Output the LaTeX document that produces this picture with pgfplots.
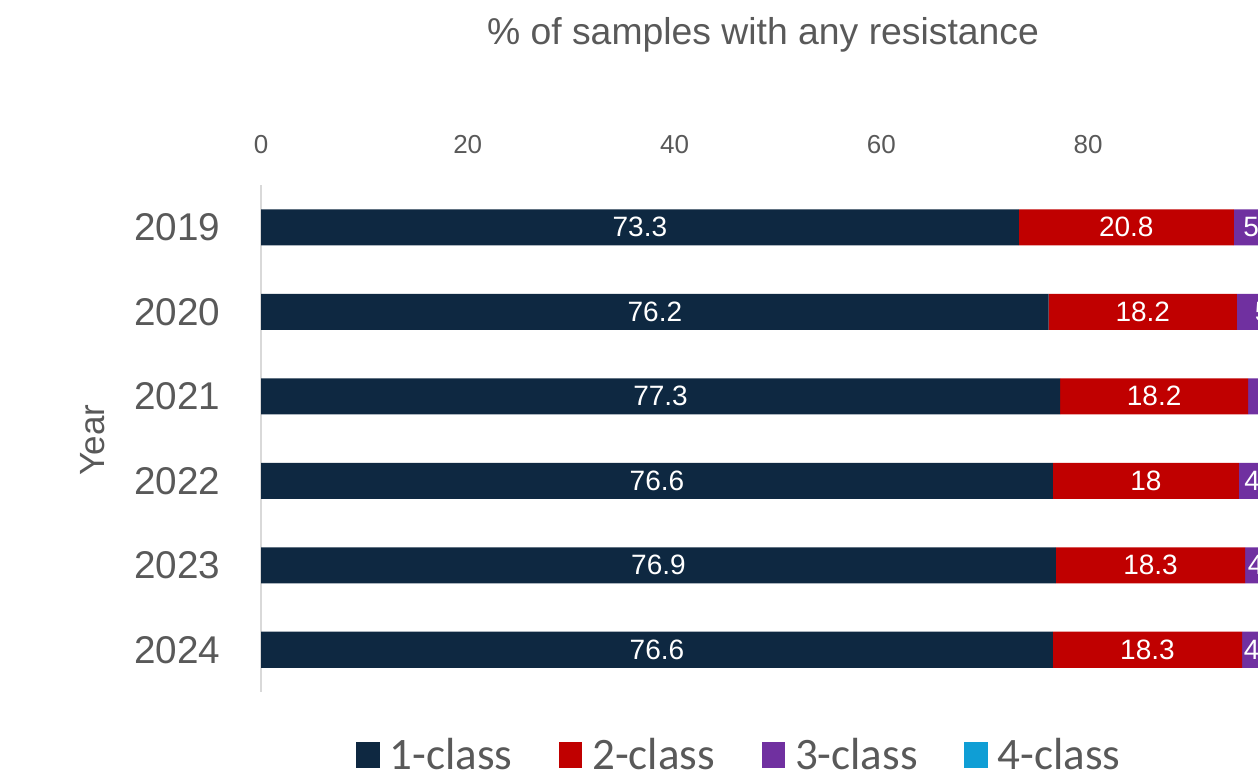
\documentclass[border=0pt]{standalone}
\usepackage{pgfplots}
\usepackage{pgfplotstable}
\pgfplotsset{compat=1.18}
\usepackage{fontspec}
\setmainfont{Liberation Sans}
\newfontfamily\legfont{Carlito}
\definecolor{c1}{HTML}{0E2841}
\definecolor{c2}{HTML}{C00000}
\definecolor{c3}{HTML}{7030A0}
\definecolor{c4}{HTML}{0F9ED5}
\definecolor{txt}{HTML}{595959}
\definecolor{axl}{HTML}{D9D9D9}
\pgfplotstableread{
yr a b c d
0 73.3 20.8 5.6 0.3
1 76.2 18.2 5 0.6
2 77.3 18.2 4 0.5
3 76.6 18 4.8 0.6
4 76.9 18.3 4.3 0.5
5 76.6 18.3 4.1 1.0
}\data
\pgfplotsset{common/.style={
  at={(156.6pt,-111pt)}, anchor=north west,
  scale only axis, width=620.25pt, height=304.2pt,
  xmin=0, xmax=100, ymin=-0.5, ymax=5.5, y dir=reverse}}
\begin{document}
\begin{tikzpicture}
\useasboundingbox (0,0) rectangle (754.8pt,-467.4pt);
\clip (0,0) rectangle (754.8pt,-467.4pt);
\begin{axis}[common,
  xbar stacked, bar width=21.6pt,
  axis y line*=left, axis x line*=top,
  x axis line style={draw=none},
  y axis line style={draw=axl, line width=1.2pt},
  major tick length=0pt,
  xtick={0,20,...,100},
  ytick={0,...,5}, yticklabels={2019,2020,2021,2022,2023,2024},
  /pgf/number format/assume math mode=true,
  x tick label style={font=\fontsize{15.6}{18}\selectfont, text=txt, yshift=15.4pt},
  y tick label style={font=\fontsize{23.2}{26}\selectfont, text=txt, xshift=-21pt},
  legend columns=4,
  legend style={at={(0.4634,-0.124)}, anchor=center, draw=none, fill=none, font=\legfont\fontsize{27}{30}\selectfont, text=txt,
    /tikz/every odd column/.append style={column sep=4pt},
    /tikz/every even column/.append style={column sep=26pt}},
  legend image code/.code={\fill[#1] (0pt,-8pt) rectangle (14pt,8pt);},
]
\addplot[fill=c1, draw=none] table[x=a, y=yr] {\data};
\addplot[fill=c2, draw=none] table[x=b, y=yr] {\data};
\addplot[fill=c3, draw=none] table[x=c, y=yr] {\data};
\addplot[fill=c4, draw=none] table[x=d, y=yr] {\data};
\legend{1-class,2-class,3-class,4-class}
\end{axis}
\begin{axis}[common, hide axis,
  nodes near coords={\pgfplotspointmeta}, point meta=explicit symbolic,
  every node near coord/.style={anchor=center, text=white, font=\fontsize{16.8}{20}\selectfont}]
\addplot[draw=none, mark=none] table[x expr=\thisrow{a}/2, y=yr, meta=a] {\data};
\addplot[draw=none, mark=none] table[x expr=\thisrow{a}+\thisrow{b}/2, y=yr, meta=b] {\data};
\addplot[draw=none, mark=none] table[x expr=\thisrow{a}+\thisrow{b}+\thisrow{c}/2, y=yr, meta=c] {\data};
\end{axis}
\node[font=\fontsize{22.4}{26}\selectfont, text=txt] at (457.8pt,-21pt) {\% of samples with any resistance};
\node[font=\fontsize{21}{24}\selectfont, text=txt, rotate=90] at (55.8pt,-264pt) {Year};
\end{tikzpicture}
\end{document}
